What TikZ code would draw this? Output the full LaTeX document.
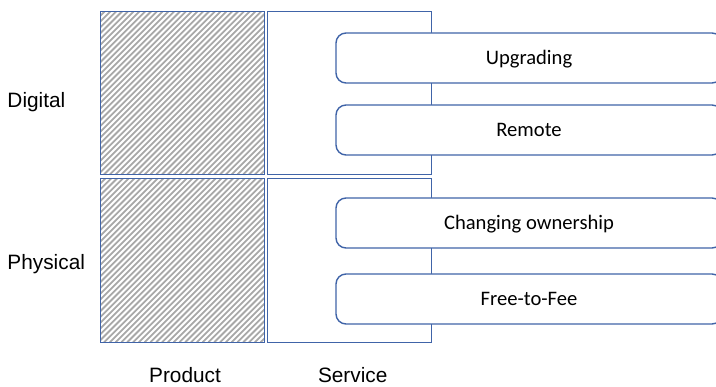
\documentclass[tikz,border=0pt]{standalone}
\usepackage{fontspec}
\setmainfont{Liberation Sans}
\newfontfamily\boxfont{Carlito}
\definecolor{frame}{RGB}{64,100,168}
\definecolor{hatch}{RGB}{168,168,168}
\begin{document}
\begin{tikzpicture}[x=1pt,y=-1pt,
  cell/.style={draw=frame, line width=1.5pt, minimum height=163pt, inner sep=0pt},
  option/.style={draw=frame, line width=1.4pt, fill=white, rounded corners=10pt,
    minimum width=386pt, minimum height=50pt, inner sep=0pt,
    text height=13.6pt, text depth=0pt, font=\boxfont\fontsize{20.6}{24}\selectfont},
  axis/.style={font=\fontsize{20.8}{24}\selectfont, inner sep=0pt}]
\useasboundingbox (0,0) rectangle (716,387);

% hatched product cells
\foreach \yt/\yb in {11.5/174.5,178.7/342.3}{
  \begin{scope}
    \clip (100.7,\yt) rectangle (264.7,\yb);
    \foreach \i in {0,...,60}
      \draw[hatch, line width=1.8pt] ({100-170+\i*5.8},\yb) -- ++(170,-170);
  \end{scope}
}

% grid cells
\node[cell, minimum width=164pt] (pd) at (182.7,93) {};
\node[cell, minimum width=164pt] (sd) at (349.3,93) {};
\node[cell, minimum width=164pt, minimum height=163.6pt] (pp) at (182.7,260.5) {};
\node[cell, minimum width=164pt, minimum height=163.6pt] (sp) at (349.3,260.5) {};

% service options
\node[option] (up) at (529,58) {Upgrading};
\node[option] (re) at (529,130) {Remote};
\node[option] (co) at (529,223) {Changing ownership};
\node[option] (ff) at (529,299) {Free-to-Fee};

% axis labels
\node[axis, anchor=west] (dig) at (7.3,102) {Digital};
\node[axis, anchor=west] (phy) at (7.3,264) {Physical};
\node[axis, anchor=base] (prod) at (185,383) {Product};
\node[axis, anchor=base] (serv) at (352.7,383) {Service};
\end{tikzpicture}
\end{document}
